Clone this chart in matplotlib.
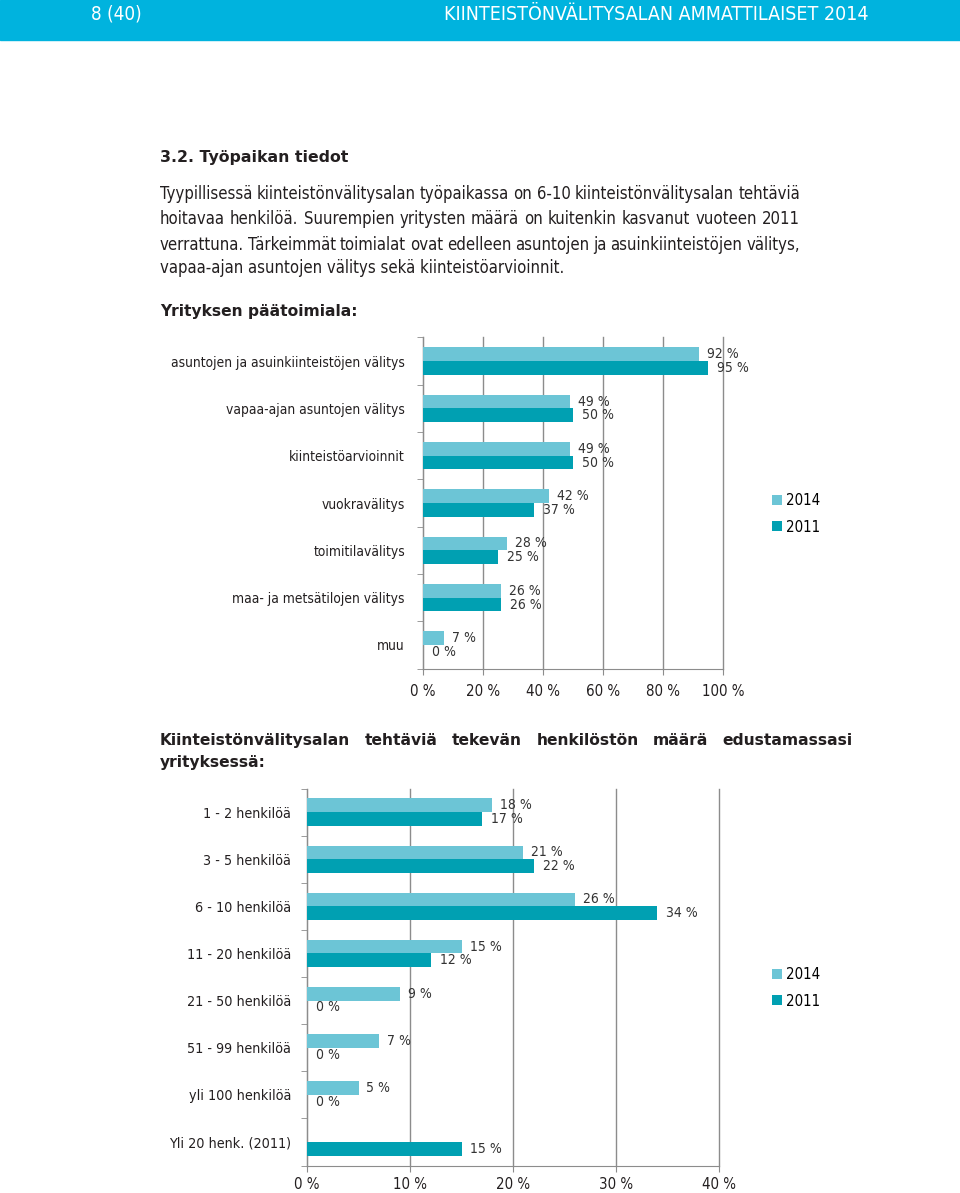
import matplotlib
matplotlib.use('Agg')
import matplotlib.pyplot as plt
from matplotlib.patches import Rectangle

# figure is laid out in pixels (960 x 1193 at dpi 100)
W, H = 960, 1193

# ---- data ----
cats1 = ['asuntojen ja asuinkiinteistöjen välitys', 'vapaa-ajan asuntojen välitys',
         'kiinteistöarvioinnit', 'vuokravälitys', 'toimitilavälitys',
         'maa- ja metsätilojen välitys', 'muu']
v2014_1 = [92, 49, 49, 42, 28, 26, 7]
v2011_1 = [95, 50, 50, 37, 25, 26, 0]
ticks1 = [0, 20, 40, 60, 80, 100]

cats2 = ['1 - 2 henkilöä', '3 - 5 henkilöä', '6 - 10 henkilöä', '11 - 20 henkilöä',
         '21 - 50 henkilöä', '51 - 99 henkilöä', 'yli 100 henkilöä', 'Yli 20 henk. (2011)']
v2014_2 = [18, 21, 26, 15, 9, 7, 5, None]
v2011_2 = [17, 22, 34, 12, 0, 0, 0, 15]
ticks2 = [0, 10, 20, 30, 40]

years = ['2014', '2011']

header_left = '8 (40)'
header_right = 'KIINTEISTÖNVÄLITYSALAN AMMATTILAISET 2014'
title = '3.2. Työpaikan tiedot'
body = ['Tyypillisessä kiinteistönvälitysalan työpaikassa on 6-10 kiinteistönvälitysalan tehtäviä',
        'hoitavaa henkilöä. Suurempien yritysten määrä on kuitenkin kasvanut vuoteen 2011',
        'verrattuna. Tärkeimmät toimialat ovat edelleen asuntojen ja asuinkiinteistöjen välitys,',
        'vapaa-ajan asuntojen välitys sekä kiinteistöarvioinnit.']
heading1 = 'Yrityksen päätoimiala:'
heading2 = ['Kiinteistönvälitysalan tehtäviä tekevän henkilöstön määrä edustamassasi',
            'yrityksessä:']

# ---- styles ----
c2014 = '#6cc5d6'
c2011 = '#00a0b2'
header_col = '#00b3de'
grid_col = '#8c8c8c'
txt_col = '#231f20'

sans = ['Liberation Sans Narrow', 'DejaVu Sans']
cond = dict(family=sans, stretch='condensed')
verd = dict(family=['DejaVu Sans'])

fig = plt.figure(figsize=(W / 100, H / 100), dpi=100)
renderer = fig.canvas.get_renderer()


def fx(x):
    return x / W


def fy(y):
    return 1 - y / H


def width_of(t):
    return t.get_window_extent(renderer).width


def fit_size(s, w, **kw):
    t = fig.text(0, 0, s, fontsize=12, **kw)
    fs = 12 * w / width_of(t)
    t.remove()
    return fs


def justify(s, x0, x1, y, fs, **kw):
    words = s.split()
    texts = [fig.text(0, fy(y), w, fontsize=fs, va='baseline', ha='left', **kw) for w in words]
    ws = [width_of(t) for t in texts]
    gap = (x1 - x0 - sum(ws)) / (len(words) - 1)
    x = x0
    for t, w in zip(texts, ws):
        t.set_x(fx(x))
        x += w + gap


# header bar
fig.patches.append(Rectangle((0, fy(40)), 1, 40 / H, transform=fig.transFigure,
                             color=header_col, zorder=0))
fig.text(fx(91), fy(20), header_left, fontsize=13.5, color='white', va='baseline', **cond)
fig.text(fx(868), fy(20), header_right, fontsize=14, color='white', va='baseline',
         ha='right', **cond)

# text block
fs = fit_size(title, 188, weight='bold', **verd)
fig.text(fx(160), fy(162), title, fontsize=fs, weight='bold', color=txt_col,
         va='baseline', **verd)

# body: size from the last (free) line, shrunk if a justified line would not fit
body_fs = fit_size(body[3], 417, **cond)
for line in body[:3]:
    nat = fit_size(line.replace(' ', ''), 640 - 4 * line.count(' '), **cond)
    body_fs = min(body_fs, nat)
for line, y in zip(body[:3], [199, 224, 250]):
    justify(line, 160, 800, y, body_fs, color=txt_col, **cond)
fig.text(fx(160), fy(273), body[3], fontsize=body_fs, color=txt_col, va='baseline', **cond)

head_fs = fit_size(heading1, 197, weight='bold', **verd)
fig.text(fx(160), fy(316), heading1, fontsize=head_fs, weight='bold', color=txt_col,
         va='baseline', **verd)
justify(heading2[0], 160, 853, 745, head_fs, weight='bold', color=txt_col, **verd)
fig.text(fx(160), fy(767), heading2[1], fontsize=head_fs, weight='bold',
         color=txt_col, va='baseline', **verd)

label_fs = 10
tick_fs = 10.8


def bar_chart(rect, cats, a, b, ticks, xmax, cat_fs, pad, xpad, leg_y):
    left, right, top, bottom = rect
    ax = fig.add_axes([fx(left), fy(bottom), (right - left) / W, (bottom - top) / H])
    n = len(cats)
    h = 0.29
    ys = list(range(n))
    for i in ys:
        if a[i] is not None:
            ax.barh(i - h / 2, a[i], height=h, color=c2014, zorder=3,
                    label=years[0] if i == 0 else None)
            ax.annotate(f'{a[i]} %', (a[i], i - h / 2), xytext=(8, 0),
                        textcoords='offset pixels', va='center', ha='left',
                        fontsize=label_fs, color='#333333', **cond)
        if b[i] is not None:
            ax.barh(i + h / 2, b[i], height=h, color=c2011, zorder=3,
                    label=years[1] if i == 0 else None)
            ax.annotate(f'{b[i]} %', (b[i], i + h / 2), xytext=(9, 0),
                        textcoords='offset pixels', va='center', ha='left',
                        fontsize=label_fs, color='#333333', **cond)
    ax.set_xlim(0, xmax)
    ax.set_ylim(n - 0.5, -0.5)
    ax.set_xticks(ticks)
    ax.set_xticklabels([f'{v} %' for v in ticks], fontsize=tick_fs, color=txt_col, **cond)
    ax.set_yticks(ys)
    ax.set_yticklabels(cats, fontsize=cat_fs, color=txt_col, **cond)
    ax.set_yticks([i + 0.5 for i in range(-1, n)], minor=True)
    ax.tick_params(axis='y', which='major', length=0, pad=pad)
    ax.tick_params(axis='y', which='minor', length=4, color=grid_col, direction='out')
    ax.tick_params(axis='x', length=4, color=grid_col, pad=xpad)
    ax.grid(axis='x', color=grid_col, linewidth=1, zorder=0)
    for g in ax.get_xgridlines():
        g.set_clip_on(False)
    for s in ['top', 'right']:
        ax.spines[s].set_visible(False)
    for s in ['left', 'bottom']:
        ax.spines[s].set_color(grid_col)
    ax.set_facecolor('none')
    fig.legend(handles=ax.get_legend_handles_labels()[0], labels=years,
               loc='center left', bbox_to_anchor=(fx(766), fy(leg_y)),
               frameon=False, handlelength=0.65, handleheight=0.65,
               handletextpad=0.3, labelspacing=0.75, borderaxespad=0,
               prop={'family': sans, 'stretch': 'condensed', 'size': tick_fs})
    return ax


bar_chart((423, 723, 337.5, 668.6), cats1, v2014_1, v2011_1, ticks1, 100, 9.9, 13, 7, 514)
bar_chart((307, 719, 788.5, 1165.5), cats2, v2014_2, v2011_2, ticks2, 40, 10.3, 11.5, 4, 988)

fig.savefig('out.png', dpi=100)
